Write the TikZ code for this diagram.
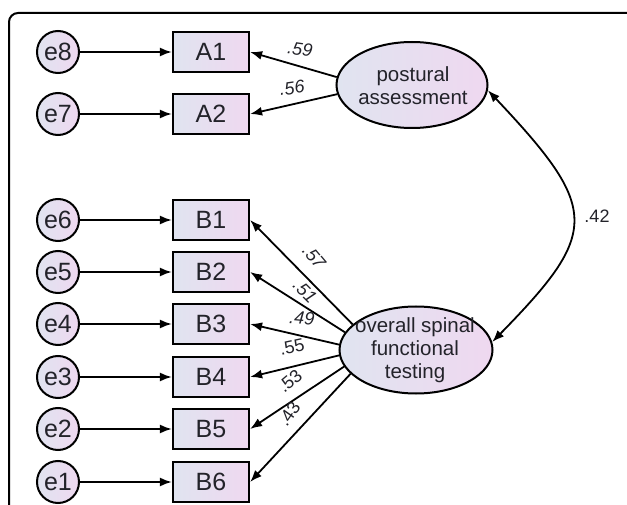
\documentclass[tikz,border=0pt]{standalone}
\usepackage{fontspec}
\setmainfont{Liberation Sans}
\usetikzlibrary{arrows.meta,shapes.geometric}
\definecolor{fillL}{RGB}{224,228,240}
\definecolor{fillR}{RGB}{239,216,240}
\definecolor{txt}{RGB}{35,35,42}
\tikzset{
  gradfill/.style={left color=fillL, right color=fillR},
  errc/.style={circle, draw, line width=2pt, gradfill, minimum size=42pt, inner sep=0pt,
    font=\fontsize{25}{25}\selectfont, text=txt},
  obsbox/.style={rectangle, draw, line width=2.2pt, gradfill, minimum width=76pt,
    minimum height=40pt, inner sep=0pt, font=\fontsize{25}{25}\selectfont, text=txt},
  latent/.style={ellipse, draw, line width=2pt, gradfill, inner sep=0pt},
  lattext/.style={align=center, inner sep=0pt, font=\fontsize{20.5}{23}\selectfont, text=txt},
  arr/.style={-{Latex[length=12pt,width=9pt]}, line width=1.8pt},
  dblarr/.style={{Latex[length=12pt,width=9pt]}-{Latex[length=12pt,width=9pt]}, line width=1.8pt},
  coef/.style={inner sep=0pt, font=\fontsize{18}{18}\selectfont, text=txt},
  coefit/.style={coef, font=\fontsize{18}{18}\selectfont\itshape}
}
\begin{document}
\begin{tikzpicture}[x=1pt,y=-1pt]
\useasboundingbox (0,0) rectangle (627,505);
% frame
\draw[line width=2pt, rounded corners=9pt] (9,506) -- (9,13) -- (628,13);

% latent variables
\node[latent, minimum width=151pt, minimum height=86pt] (pa) at (412,85) {};
\node[lattext] (patext) at (413,86) {postural\\assessment};
\node[latent, minimum width=153pt, minimum height=87pt] (os) at (416,350) {};
\node[lattext] (ostext) at (415,350) {overall spinal\\functional\\testing};

% observed variables
\node[obsbox] (A1) at (211,52) {A1};
\node[obsbox] (A2) at (211,114) {A2};
\node[obsbox] (B1) at (211,220) {B1};
\node[obsbox] (B2) at (211,272) {B2};
\node[obsbox] (B3) at (211,324) {B3};
\node[obsbox] (B4) at (211,377) {B4};
\node[obsbox] (B5) at (211,429) {B5};
\node[obsbox] (B6) at (211,482) {B6};

% error terms
\node[errc] (e8) at (58,52) {e8};
\node[errc] (e7) at (58,114) {e7};
\node[errc] (e6) at (58,220) {e6};
\node[errc] (e5) at (58,272) {e5};
\node[errc] (e4) at (58,324) {e4};
\node[errc] (e3) at (58,377) {e3};
\node[errc] (e2) at (58,429) {e2};
\node[errc] (e1) at (58,482) {e1};

% error arrows
\foreach \e/\b in {e8/A1,e7/A2,e6/B1,e5/B2,e4/B3,e3/B4,e2/B5,e1/B6}
  \draw[arr] (\e) -- (\b);

% loadings
\draw[arr] (pa.174) -- (A1.east);
\draw[arr] (pa.187) -- (A2.east);
\draw[arr] (os.158) -- (B1.east);
\draw[arr] (os.166) -- (B2.east);
\draw[arr] (os.176) -- (B3.east);
\draw[arr] (os.184) -- (B4.east);
\draw[arr] (os.193) -- (B5.east);
\draw[arr] (os.200) -- (B6.east);

% correlation
\draw[dblarr] (pa.-4) .. controls (600,209) and (600,232) .. (os.6);

% coefficient labels
\node[coefit, rotate=-8] (c59) at (300,49) {.59};
\node[coefit, rotate=8] (c56) at (292,88) {.56};
\node[coefit, rotate=-50] (c57) at (314,257) {.57};
\node[coefit, rotate=-45] (c51) at (305,291) {.51};
\node[coefit, rotate=-5] (c49) at (302,318) {.49};
\node[coef, rotate=12] (c55) at (292,347) {.55};
\node[coef, rotate=40] (c53) at (290,381) {.53};
\node[coef, rotate=55] (c43) at (289,414) {.43};
\node[coef] (c42) at (597,216) {.42};
\end{tikzpicture}
\end{document}
